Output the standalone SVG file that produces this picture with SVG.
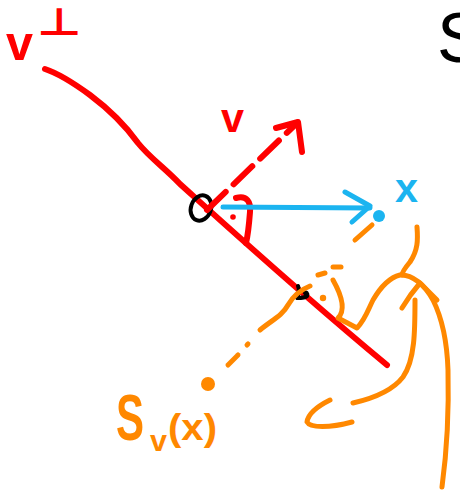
<svg xmlns="http://www.w3.org/2000/svg" width="460" height="493" viewBox="0 0 460 493">
<style>
.s{fill:none;stroke-linecap:round;stroke-linejoin:round}
.red{stroke:#FF0000;stroke-width:6}
.blue{stroke:#1BB4F0;stroke-width:5}
.org{stroke:#FF8800;stroke-width:5}
.blk{stroke:#000;stroke-width:4}
.t{font-family:"Liberation Sans",Arial,sans-serif}
.b{font-weight:bold}
</style>
<rect width="460" height="493" fill="#fff"/>
<g id="hyperplane">
<path class="s red" d="M45,69 C60,74 75,84 90,95 C110,110 125,125 138,143 C150,158 165,168 180,184 C220,220 300,293 387,365"/>
<text class="t b" x="6" y="60" font-size="48" fill="#FF0000" textLength="27" lengthAdjust="spacingAndGlyphs">v</text>
<text x="37" y="35" font-size="38" font-weight="bold" fill="#FF0000" font-family="DejaVu Sans,sans-serif" textLength="45" lengthAdjust="spacingAndGlyphs">⊥</text>
</g>
<g id="origin">
<ellipse cx="201" cy="208" rx="10" ry="13" transform="rotate(20 201 208)" class="s blk"/>
</g>
<g id="right-angle-red">
<path class="s red" stroke-width="5" d="M236,198 C247,195 251,202 250,212 C249,225 248,235 246,243"/>
<circle cx="233" cy="217" r="2.8" fill="#FF0000"/>
</g>
<g id="vector-v">
<path class="s red" stroke-dasharray="26 11" d="M207,210 L297,123"/>
<path class="s red" d="M276,128 L298,122 L302,152"/>
<text class="t b" x="221" y="132" font-size="40" fill="#FF0000" textLength="23" lengthAdjust="spacingAndGlyphs">v</text>
</g>
<g id="vector-x">
<path class="s blue" d="M223,207 L370,208"/>
<path class="s blue" d="M345,192 L370,206 L352,222"/>
<circle cx="379" cy="216" r="6" fill="#1BB4F0"/>
<text class="t b" x="395" y="202" font-size="40" fill="#1BB4F0" textLength="23" lengthAdjust="spacingAndGlyphs">x</text>
</g>
<g id="foot">
<path class="s blk" d="M298,286 C300,290 298,295 297,298 C301,298 305,298 307,296 C308,293 306,292 305,293"/>
</g>
<g id="connectors">
<g class="s org">
<path d="M355,240 L372,225"/>
<path d="M333,267 L341,267"/>
<path d="M318,275 L325,273"/>
<path d="M260,330 C272,320 282,316 288,305 C293,296 300,290 310,286"/>
<path d="M247,345 L248,344"/>
<path d="M228,365 L238,355"/>
<path d="M333,280 C342,296 346,310 338,318 L357,328 C365,320 368,310 373,300 C380,288 388,278 400,275 C412,274 425,285 433,300 C442,318 447,340 448,370 C449,410 447,450 442,487"/>
<path d="M417,227 C418,240 418,250 410,262 C405,268 402,272 402,275"/>
<path d="M402,308 C408,298 414,290 420,283 L437,300"/>
<path d="M415,300 C415,330 415,360 403,377 C393,390 375,398 353,403"/>
<path d="M330,400 C318,406 308,414 307,422 C310,428 330,428 352,422"/>
</g>
<circle cx="323" cy="298" r="3.2" fill="#FF8800"/>
<circle cx="208" cy="384" r="7" fill="#FF8800"/>
</g>
<g id="label-Sv">
<text class="t b" fill="#FF8800"><tspan x="116" y="440" font-size="64" textLength="28" lengthAdjust="spacingAndGlyphs">S</tspan><tspan x="150" y="451" font-size="30" textLength="17" lengthAdjust="spacingAndGlyphs">v</tspan><tspan x="168" y="440" font-size="36" textLength="49" lengthAdjust="spacingAndGlyphs">(x)</tspan></text>
</g>
<g id="label-S">
<text class="t" x="437" y="62" font-size="70" fill="#000">S</text>
</g>
</svg>
